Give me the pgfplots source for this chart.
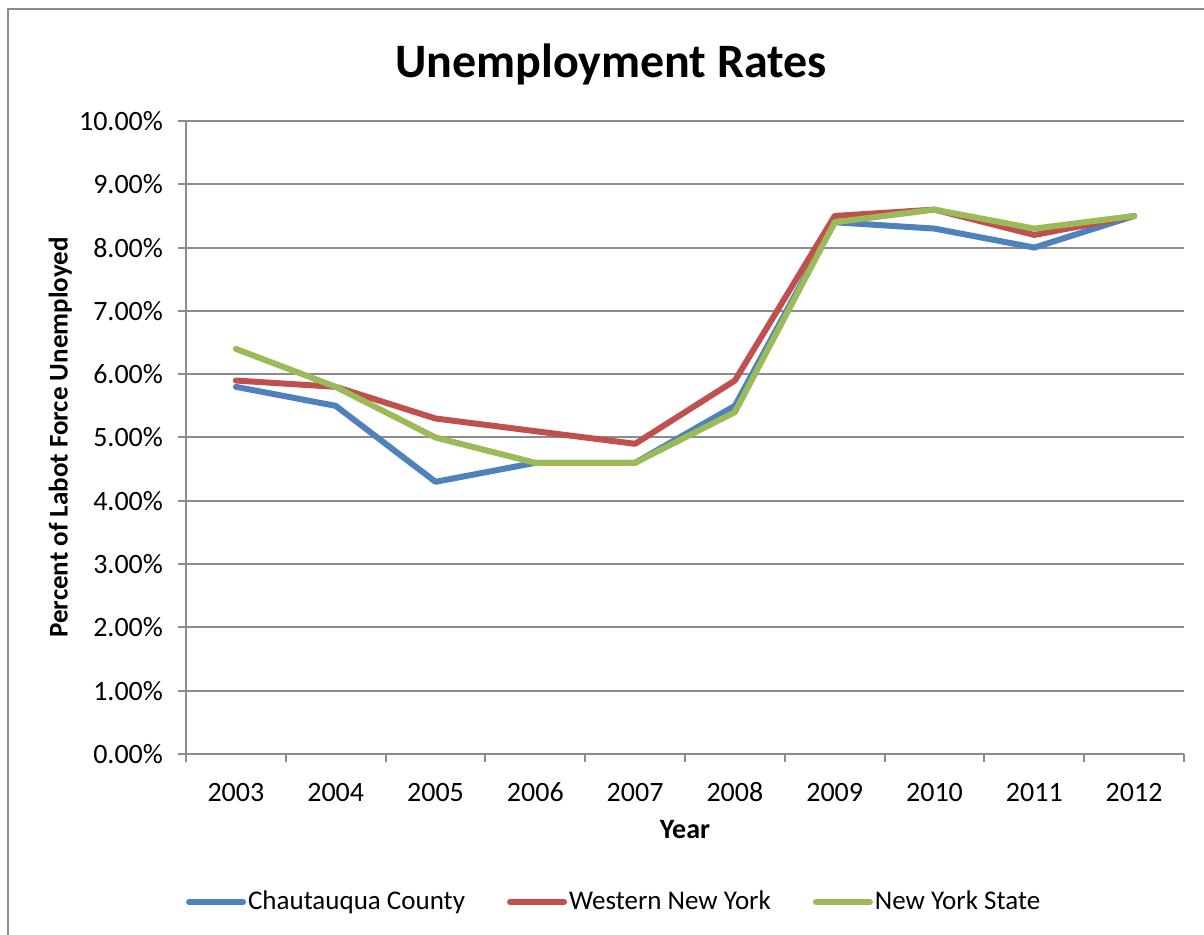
\documentclass[border=0pt]{standalone}
\usepackage{pgfplots}
\pgfplotsset{compat=1.18}
\usepackage{fontspec}
\setmainfont{Carlito}
\definecolor{cblue}{HTML}{4F81BD}
\definecolor{cred}{HTML}{C0504D}
\definecolor{cgreen}{HTML}{9BBB59}
\definecolor{gridgray}{HTML}{8C8C8C}
\begin{document}
\begin{tikzpicture}
\useasboundingbox (0,0) rectangle (602pt,467.5pt);
\draw[gridgray, line width=1pt] (4pt,-10pt) -- (4pt,463pt) -- (620pt,463pt);
\begin{axis}[
  at={(93pt,90.5pt)}, anchor=south west,
  scale only axis, width=499pt, height=316.5pt,
  xmin=-0.5, xmax=9.5, ymin=0, ymax=10,
  axis lines=left,
  axis line style={gridgray, line width=1pt, -},
  xtick={0,...,9},
  xticklabels={2003,2004,2005,2006,2007,2008,2009,2010,2011,2012},
  major x tick style={draw=none},
  minor xtick={-0.5,0.5,...,9.5},
  minor x tick style={gridgray, line width=1pt},
  minor tick length=4pt,
  ytick={0,1,...,10},
  major tick length=4pt,
  major y tick style={gridgray, line width=1pt},
  tick align=outside,
  ymajorgrids,
  grid style={gridgray, line width=1pt},
  /pgf/number format/assume math mode=true,
  yticklabel={\pgfmathprintnumber[fixed,fixed zerofill,precision=2]{\tick}\%},
  ticklabel style={font=\fontsize{14pt}{16pt}\selectfont},
  xticklabel style={yshift=-6pt, text height=10pt, text depth=0pt},
  yticklabel style={xshift=-4pt},
  title={Unemployment Rates},
  title style={font=\fontsize{24pt}{28pt}\selectfont\bfseries, at={(axis description cs:0.426,1.071)}, anchor=center},
  xlabel={Year},
  xlabel style={font=\fontsize{14pt}{16pt}\selectfont\bfseries, at={(axis description cs:0.5,-0.12)}, anchor=center},
  ylabel={Percent of Labot Force Unemployed},
  ylabel style={font=\fontsize{13.5pt}{16pt}\selectfont\bfseries, at={(axis description cs:-0.126,0.5)}, anchor=center, rotate=0},
  legend columns=3,
  legend style={at={(axis description cs:0.429,-0.234)}, anchor=center, draw=none, fill=none,
    font=\fontsize{13.5pt}{16pt}\selectfont,
    nodes={inner xsep=1pt},
    /tikz/every even column/.append style={column sep=20pt},
    /tikz/every odd column/.append style={column sep=0pt}},
  legend image code/.code={\draw[#1, line width=3pt, line cap=round] (0pt,0pt) -- (27pt,0pt);},
  every axis plot/.append style={line width=3pt, line join=round, line cap=round},
]
\addplot[cblue] coordinates {(0,5.8) (1,5.5) (2,4.3) (3,4.6) (4,4.6) (5,5.5) (6,8.4) (7,8.3) (8,8.0) (9,8.5)};
\addlegendentry{Chautauqua County}
\addplot[cred] coordinates {(0,5.9) (1,5.8) (2,5.3) (3,5.1) (4,4.9) (5,5.9) (6,8.5) (7,8.6) (8,8.2) (9,8.5)};
\addlegendentry{Western New York}
\addplot[cgreen] coordinates {(0,6.4) (1,5.8) (2,5.0) (3,4.6) (4,4.6) (5,5.4) (6,8.4) (7,8.6) (8,8.3) (9,8.5)};
\addlegendentry{New York State}
\end{axis}
\end{tikzpicture}
\end{document}
